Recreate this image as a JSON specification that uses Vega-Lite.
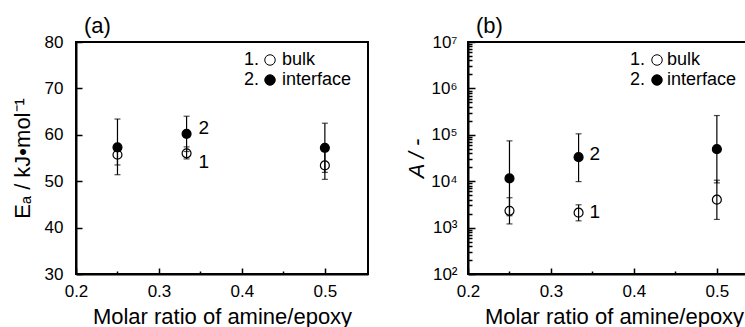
{
  "$schema": "https://vega.github.io/schema/vega-lite/v6.json",
  "background": "white",
  "padding": {"left": 10, "top": 14, "right": 0, "bottom": 0},
  "config": {
    "font": "Liberation Sans",
    "view": {"stroke": "black", "strokeWidth": 2},
    "axis": {
      "grid": false, "domainColor": "black", "domainWidth": 2,
      "tickColor": "black", "tickWidth": 1.5,
      "labelColor": "black", "titleColor": "black",
      "labelFontSize": 17, "titleFontSize": 22, "titleFontWeight": "normal",
      "labelFlush": false, "labelOverlap": false
    },
    "title": {"fontSize": 22, "fontWeight": "normal", "anchor": "start", "frame": "group", "color": "black"},
    "legend": {"labelColor": "black", "labelFontSize": 18, "padding": 0, "rowPadding": 2}
  },
  "datasets": {
    "ea": [
      {"x": 0.25, "series": "bulk", "num": "1", "v": 55.7, "lo": 53.5, "hi": 57.9},
      {"x": 0.3333, "series": "bulk", "num": "1", "v": 56.0, "lo": 54.8, "hi": 57.4},
      {"x": 0.5, "series": "bulk", "num": "1", "v": 53.4, "lo": 50.4, "hi": 56.4},
      {"x": 0.25, "series": "interface", "num": "2", "v": 57.3, "lo": 51.4, "hi": 63.4},
      {"x": 0.3333, "series": "interface", "num": "2", "v": 60.2, "lo": 56.4, "hi": 64.0},
      {"x": 0.5, "series": "interface", "num": "2", "v": 57.2, "lo": 51.9, "hi": 62.5}
    ],
    "pre": [
      {"x": 0.25, "series": "bulk", "num": "1", "v": 2300, "lo": 1200, "hi": 4400},
      {"x": 0.3333, "series": "bulk", "num": "1", "v": 2100, "lo": 1400, "hi": 3100},
      {"x": 0.5, "series": "bulk", "num": "1", "v": 4000, "lo": 1500, "hi": 10500},
      {"x": 0.25, "series": "interface", "num": "2", "v": 11500, "lo": 1800, "hi": 74000},
      {"x": 0.3333, "series": "interface", "num": "2", "v": 33000, "lo": 9800, "hi": 105000},
      {"x": 0.5, "series": "interface", "num": "2", "v": 49000, "lo": 9200, "hi": 260000}
    ]
  },
  "spacing": 35,
  "resolve": {
    "scale": {"x": "independent", "y": "independent", "fill": "independent", "shape": "independent"},
    "legend": {"fill": "independent", "shape": "independent"}
  },
  "hconcat": [
    {
      "width": 292, "height": 232,
      "title": {"text": "(a)", "dx": 8, "offset": -22, "baseline": "alphabetic"},
      "data": {"name": "ea"},
      "encoding": {
        "x": {
          "field": "x", "type": "quantitative", "title": "Molar ratio of amine/epoxy",
          "scale": {"domain": [0.2, 0.552], "nice": false, "zero": false},
          "axis": {
            "values": [0.2, 0.25, 0.3, 0.35, 0.4, 0.45, 0.5],
            "labelExpr": "abs(datum.value*10 - round(datum.value*10)) < 0.001 ? format(datum.value, '.1f') : ''",
            "tickSize": {"condition": {"test": "abs(datum.value*10 - round(datum.value*10)) < 0.001", "value": -6}, "value": -3},
            "labelPadding": 15, "titlePadding": 4
          }
        }
      },
      "layer": [
        {
          "mark": {"type": "rule", "color": "black", "strokeWidth": 1.2},
          "encoding": {
            "y": {
              "field": "lo", "type": "quantitative", "title": "Eₐ / kJ•mol⁻¹",
              "scale": {"domain": [30, 80], "nice": false, "zero": false},
              "axis": {"values": [30, 40, 50, 60, 70, 80], "tickSize": -6, "labelPadding": 19, "titlePadding": 10}
            },
            "y2": {"field": "hi"}
          }
        },
        {
          "mark": {"type": "tick", "orient": "horizontal", "size": 6, "thickness": 1.2, "color": "black"},
          "encoding": {"y": {"field": "lo", "type": "quantitative", "title": "Eₐ / kJ•mol⁻¹"}}
        },
        {
          "mark": {"type": "tick", "orient": "horizontal", "size": 6, "thickness": 1.2, "color": "black"},
          "encoding": {"y": {"field": "hi", "type": "quantitative", "title": "Eₐ / kJ•mol⁻¹"}}
        },
        {
          "mark": {"type": "point", "filled": true, "stroke": "black", "strokeWidth": 1.2, "size": 80, "opacity": 1},
          "encoding": {
            "y": {"field": "v", "type": "quantitative", "title": "Eₐ / kJ•mol⁻¹"},
            "fill": {
              "field": "series", "type": "nominal",
              "scale": {"domain": ["bulk", "interface"], "range": ["transparent", "black"]},
              "legend": {"orient": "none", "legendX": 185, "legendY": 9, "title": null, "symbolType": "circle", "symbolSize": 110, "symbolStrokeColor": "black", "symbolStrokeWidth": 1, "labelOffset": 3}
            },
            "shape": {
              "field": "num", "type": "nominal",
              "scale": {"domain": ["1", "2"], "range": ["circle", "circle"]},
              "legend": {"orient": "none", "legendX": 150, "legendY": 9, "title": null, "symbolSize": 0, "symbolOpacity": 0, "symbolStrokeWidth": 0, "labelOffset": 0, "labelExpr": "datum.label + '.'"}
            }
          }
        },
        {
          "transform": [{"filter": "datum.x > 0.3 && datum.x < 0.4 && datum.num == '2'"}],
          "mark": {"type": "text", "align": "left", "baseline": "middle", "dx": 12, "dy": -6, "fontSize": 19, "color": "black"},
          "encoding": {"y": {"field": "v", "type": "quantitative", "title": "Eₐ / kJ•mol⁻¹"}, "text": {"field": "num"}}
        },
        {
          "transform": [{"filter": "datum.x > 0.3 && datum.x < 0.4 && datum.num == '1'"}],
          "mark": {"type": "text", "align": "left", "baseline": "middle", "dx": 12, "dy": 9, "fontSize": 19, "color": "black"},
          "encoding": {"y": {"field": "v", "type": "quantitative", "title": "Eₐ / kJ•mol⁻¹"}, "text": {"field": "num"}}
        }
      ]
    },
    {
      "width": 292, "height": 232,
      "title": {"text": "(b)", "dx": 8, "offset": -22, "baseline": "alphabetic"},
      "data": {"name": "pre"},
      "encoding": {
        "x": {
          "field": "x", "type": "quantitative", "title": "Molar ratio of amine/epoxy",
          "scale": {"domain": [0.2, 0.552], "nice": false, "zero": false},
          "axis": {
            "values": [0.2, 0.25, 0.3, 0.35, 0.4, 0.45, 0.5],
            "labelExpr": "abs(datum.value*10 - round(datum.value*10)) < 0.001 ? format(datum.value, '.1f') : ''",
            "tickSize": {"condition": {"test": "abs(datum.value*10 - round(datum.value*10)) < 0.001", "value": -6}, "value": -3},
            "labelPadding": 15, "titlePadding": 4
          }
        }
      },
      "layer": [
        {
          "mark": {"type": "rule", "color": "black", "strokeWidth": 1.2},
          "encoding": {
            "y": {
              "field": "lo", "type": "quantitative", "title": "A / -",
              "scale": {"type": "log", "domain": [100, 10000000], "nice": false},
              "axis": {
                "values": [100, 200, 300, 400, 500, 600, 700, 800, 900, 1000, 2000, 3000, 4000, 5000, 6000, 7000, 8000, 9000, 10000, 20000, 30000, 40000, 50000, 60000, 70000, 80000, 90000, 100000, 200000, 300000, 400000, 500000, 600000, 700000, 800000, 900000, 1000000, 2000000, 3000000, 4000000, 5000000, 6000000, 7000000, 8000000, 9000000, 10000000],
                "labelExpr": "abs(log(datum.value)/LN10 - round(log(datum.value)/LN10)) < 0.01 ? '10' + ['⁰','¹','²','³','⁴','⁵','⁶','⁷'][round(log(datum.value)/LN10)] : ''",
                "tickSize": {"condition": {"test": "abs(log(datum.value)/LN10 - round(log(datum.value)/LN10)) < 0.01", "value": -7}, "value": -4},
                "labelPadding": 18, "titlePadding": 2, "titleFontStyle": "italic"
              }
            },
            "y2": {"field": "hi"}
          }
        },
        {
          "mark": {"type": "tick", "orient": "horizontal", "size": 6, "thickness": 1.2, "color": "black"},
          "encoding": {"y": {"field": "lo", "type": "quantitative", "title": "A / -"}}
        },
        {
          "mark": {"type": "tick", "orient": "horizontal", "size": 6, "thickness": 1.2, "color": "black"},
          "encoding": {"y": {"field": "hi", "type": "quantitative", "title": "A / -"}}
        },
        {
          "mark": {"type": "point", "filled": true, "stroke": "black", "strokeWidth": 1.2, "size": 80, "opacity": 1},
          "encoding": {
            "y": {"field": "v", "type": "quantitative", "title": "A / -"},
            "fill": {
              "field": "series", "type": "nominal",
              "scale": {"domain": ["bulk", "interface"], "range": ["transparent", "black"]},
              "legend": {"orient": "none", "legendX": 180, "legendY": 9, "title": null, "symbolType": "circle", "symbolSize": 110, "symbolStrokeColor": "black", "symbolStrokeWidth": 1, "labelOffset": 1}
            },
            "shape": {
              "field": "num", "type": "nominal",
              "scale": {"domain": ["1", "2"], "range": ["circle", "circle"]},
              "legend": {"orient": "none", "legendX": 144, "legendY": 9, "title": null, "symbolSize": 0, "symbolOpacity": 0, "symbolStrokeWidth": 0, "labelOffset": 0, "labelExpr": "datum.label + '.'"}
            }
          }
        },
        {
          "transform": [{"filter": "datum.x > 0.3 && datum.x < 0.4 && datum.num == '2'"}],
          "mark": {"type": "text", "align": "left", "baseline": "middle", "dx": 11, "dy": -3, "fontSize": 19, "color": "black"},
          "encoding": {"y": {"field": "v", "type": "quantitative", "title": "A / -"}, "text": {"field": "num"}}
        },
        {
          "transform": [{"filter": "datum.x > 0.3 && datum.x < 0.4 && datum.num == '1'"}],
          "mark": {"type": "text", "align": "left", "baseline": "middle", "dx": 11, "dy": -1, "fontSize": 19, "color": "black"},
          "encoding": {"y": {"field": "v", "type": "quantitative", "title": "A / -"}, "text": {"field": "num"}}
        }
      ]
    }
  ]
}
